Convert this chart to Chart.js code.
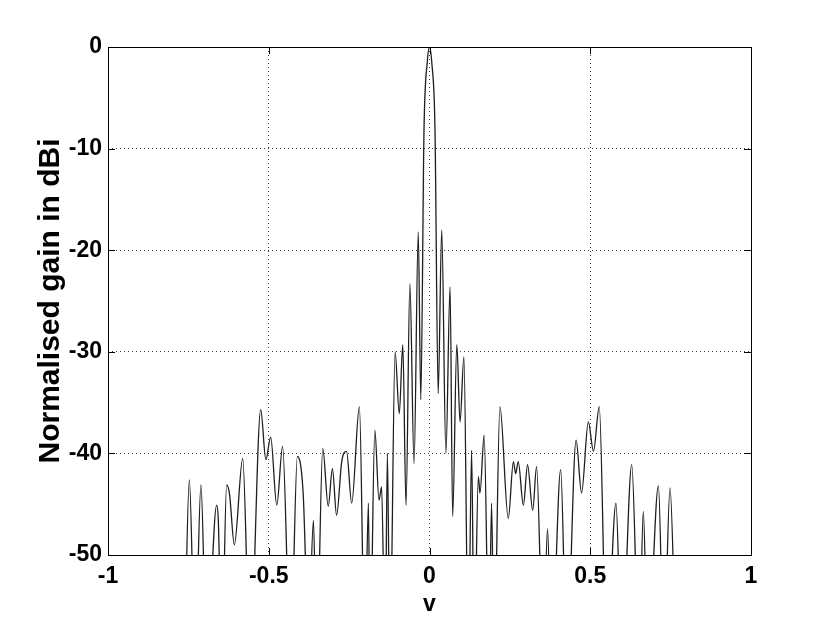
<!DOCTYPE html>
<html>
<head>
<meta charset="utf-8">
<script src="https://cdn.jsdelivr.net/npm/chart.js@4"></script>
<style>
  html, body { margin: 0; padding: 0; background: #fff; }
  canvas { display: block; }
</style>
</head>
<body>
<canvas id="myChart" width="830" height="623"></canvas>
<script>
// v values (x) and normalised gain in dB (y); nulls drop below -50
var v = [
  -0.762, -0.747, -0.729, -0.711, -0.693, -0.662, -0.657, -0.646, -0.631, -0.622,
  -0.607, -0.581, -0.558, -0.525, -0.509, -0.494, -0.475, -0.457, -0.432, -0.411,
  -0.393, -0.376, -0.361, -0.351, -0.332, -0.315, -0.302, -0.289, -0.273, -0.258,
  -0.242, -0.218, -0.201, -0.190, -0.185, -0.170, -0.157, -0.149, -0.138, -0.131,
  -0.123, -0.107, -0.094, -0.083, -0.073, -0.061, -0.048, -0.035, -0.027, -0.017,
  -0.007, 0, 0.007, 0.017, 0.027, 0.038, 0.051, 0.064, 0.072, 0.085,
  0.095, 0.107, 0.121, 0.131, 0.139, 0.152, 0.157, 0.170, 0.185, 0.193,
  0.201, 0.219, 0.245, 0.261, 0.268, 0.276, 0.292, 0.305, 0.321, 0.333,
  0.354, 0.367, 0.380, 0.408, 0.427, 0.456, 0.473, 0.494, 0.510, 0.528,
  0.551, 0.580, 0.598, 0.629, 0.652, 0.665, 0.679, 0.712, 0.729, 0.748,
  0.766
];
var gainDb = [
  -60, -42.6, -60, -43.1, -60, -45.1, -46.5, -60, -43.1, -44.0,
  -49.0, -40.5, -60, -35.7, -40.6, -38.4, -45.1, -39.3, -60, -40.3,
  -43.9, -58, -46.6, -60, -39.5, -45.2, -41.5, -46.1, -40.8, -39.8,
  -44.9, -35.4, -60, -44.9, -60, -37.7, -44.6, -43.3, -60, -40.0,
  -60, -30.0, -36.1, -29.3, -45.1, -23.3, -41.0, -18.2, -34.7, -8.0,
  -1.5, 0, -1.5, -8.0, -34.1, -18.0, -40.0, -23.6, -46.2, -29.3,
  -36.9, -30.5, -60, -39.7, -60, -42.3, -43.9, -38.2, -60, -44.9,
  -60, -35.4, -46.4, -40.8, -42.0, -40.8, -45.1, -41.1, -45.6, -41.3,
  -60, -47.4, -60, -41.6, -60, -38.7, -43.9, -36.9, -39.8, -35.4,
  -60, -44.9, -60, -41.1, -60, -45.7, -60, -43.2, -60, -43.4,
  -60
];
var xTicks = [-1, -0.5, 0, 0.5, 1];
var yTicks = [0, -10, -20, -30, -40, -50];

var points = v.map(function (x, i) { return { x: x, y: gainDb[i] }; });

// MATLAB style box with inward tick marks
var boxPlugin = {
  id: 'box',
  afterDatasetsDraw: function (chart) {
    var c = chart.ctx, a = chart.chartArea;
    var sx = chart.scales.x, sy = chart.scales.y;
    var len = 7;
    c.save();
    c.strokeStyle = '#000';
    c.lineWidth = 1;
    c.beginPath();
    xTicks.forEach(function (t) {
      var px = Math.round(sx.getPixelForValue(t)) + 0.5;
      c.moveTo(px, a.bottom); c.lineTo(px, a.bottom - len);
      c.moveTo(px, a.top); c.lineTo(px, a.top + len);
    });
    yTicks.forEach(function (t) {
      var py = Math.round(sy.getPixelForValue(t)) + 0.5;
      c.moveTo(a.left, py); c.lineTo(a.left + len, py);
      c.moveTo(a.right, py); c.lineTo(a.right - len, py);
    });
    c.stroke();
    c.strokeRect(a.left + 0.5, a.top + 0.5, a.right - a.left, a.bottom - a.top);
    c.restore();
  }
};

function edgeColor(min, max) {
  return function (ctx) {
    var val = ctx.tick ? ctx.tick.value : null;
    return (val === min || val === max) ? 'rgba(0,0,0,0)' : '#444';
  };
}

var ctx = document.getElementById('myChart').getContext('2d');
var myChart = new Chart(ctx, {
  type: 'line',
  data: {
    datasets: [{
      data: points,
      borderColor: '#1e1e1e',
      borderWidth: 1.3,
      backgroundColor: 'transparent',
      pointRadius: 0,
      fill: false,
      cubicInterpolationMode: 'monotone'
    }]
  },
  plugins: [boxPlugin],
  options: {
    responsive: false,
    animation: false,
    layout: { padding: { top: 47, right: 79, bottom: 0, left: 0 } },
    plugins: { legend: { display: false }, tooltip: { enabled: false } },
    scales: {
      x: {
        type: 'linear',
        min: -1,
        max: 1,
        afterBuildTicks: function (s) { s.ticks = xTicks.map(function (t) { return { value: t }; }); },
        afterFit: function (s) { s.height = 68; },
        ticks: {
          padding: 8,
          color: '#000',
          maxRotation: 0,
          font: { family: 'Liberation Sans, Arial, sans-serif', size: 23, weight: 'bold' },
          callback: function (val) { return String(val); }
        },
        grid: { color: edgeColor(-1, 1), lineWidth: 1, drawTicks: false },
        border: { display: false, dash: [1, 3] },
        title: {
          display: true,
          text: 'v',
          color: '#000',
          padding: { top: 0, bottom: 5 },
          font: { family: 'Liberation Sans, Arial, sans-serif', size: 23, weight: 'bold' }
        }
      },
      y: {
        min: -50,
        max: 0,
        afterBuildTicks: function (s) { s.ticks = yTicks.map(function (t) { return { value: t }; }); },
        afterFit: function (s) { s.width = 108; },
        ticks: {
          padding: 6,
          color: '#000',
          font: { family: 'Liberation Sans, Arial, sans-serif', size: 23, weight: 'bold' },
          callback: function (val) { return String(val); }
        },
        grid: { color: edgeColor(-50, 0), lineWidth: 1, drawTicks: false },
        border: { display: false, dash: [1, 3] },
        title: {
          display: true,
          text: 'Normalised gain in dBi',
          color: '#000',
          padding: { top: 33, bottom: 0 },
          font: { family: 'Liberation Sans, Arial, sans-serif', size: 30, weight: 'bold' }
        }
      }
    }
  }
});
</script>
</body>
</html>
